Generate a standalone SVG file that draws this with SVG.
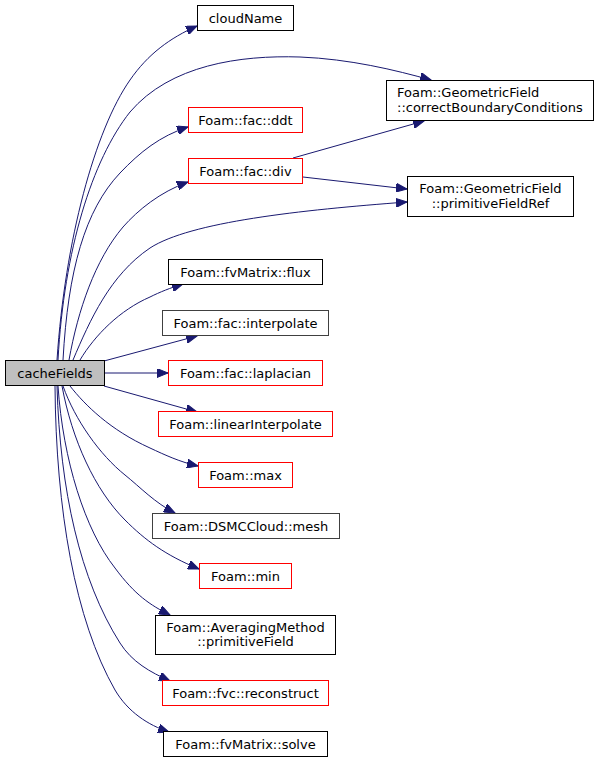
<svg xmlns="http://www.w3.org/2000/svg" width="599" height="763" viewBox="0 0 599 763">
<defs>
<style>
.n rect{fill:#fff;stroke:#000;stroke-width:1}
.n.r rect{stroke:#ff0000}
.n.g rect{stroke:#404040}
.n.cur rect{fill:#bfbfbf}
text{font-family:"DejaVu Sans","Liberation Sans",sans-serif;font-size:13px;fill:#000}
.c{text-anchor:middle}
.e path{fill:none;stroke:#191970;stroke-width:1;marker-end:url(#ah)}
</style>
<marker id="ah" markerUnits="userSpaceOnUse" markerWidth="12" markerHeight="9" refX="11" refY="4.5" orient="auto">
<path d="M0,0 L11,4.5 L0,9 z" fill="#191970" stroke="#191970" stroke-width="1"/>
</marker>
</defs>
<rect width="599" height="763" fill="#fff"/>
<g id="edges" class="e">
<path d="M57,360 C65,240 95,130 130,80 C148,54 170,38 197,26"/>
<path d="M58,360 C64,250 92,160 130,112 C170,65 240,55 300,57 C350,59 395,70 431,80"/>
<path d="M63,360 C68,270 85,210 120,173 C140,152 160,136 188,127"/>
<path d="M69,360 C78,310 95,260 123,227 C138,210 160,192 188,182"/>
<path d="M293,158 L424,121"/>
<path d="M303,177 L407,189"/>
<path d="M73,360 C90,320 110,275 150,248 C190,222 300,210 407,202"/>
<path d="M80,360 C95,335 120,310 150,297 C160,292 170,288 183,284"/>
<path d="M104,361 L197,336"/>
<path d="M104,373 L168,373"/>
<path d="M104,386 L197,412"/>
<path d="M70,386 C85,405 110,430 150,448 C165,455 180,462 198,466"/>
<path d="M63,386 C75,420 100,455 125,475 C140,487 155,503 175,513"/>
<path d="M62,386 C72,440 95,490 125,520 C145,540 165,555 199,569"/>
<path d="M58,386 C63,460 85,530 115,568 C135,595 150,605 170,615"/>
<path d="M57,386 C60,490 80,580 120,643 C132,662 150,672 170,681"/>
<path d="M55,386 C56,510 75,620 115,690 C128,712 148,725 169,732"/>
</g>
<g id="cacheFields" class="n cur"><rect x="5.5" y="360.5" width="99" height="25"/><text class="c" x="55" y="377.5">cacheFields</text></g>
<g id="cloudName" class="n"><rect x="197.5" y="5.5" width="96" height="25"/><text class="c" x="245.5" y="22.5">cloudName</text></g>
<g id="cbc" class="n"><rect x="386.5" y="80.5" width="207" height="40"/><text x="397" y="96.5">Foam::GeometricField</text><text x="397" y="111.5">::correctBoundaryConditions</text></g>
<g id="ddt" class="n r"><rect x="188.5" y="107.5" width="114" height="25"/><text class="c" x="245.5" y="124.5">Foam::fac::ddt</text></g>
<g id="div" class="n r"><rect x="188.5" y="158.5" width="114" height="25"/><text class="c" x="245.5" y="175.5">Foam::fac::div</text></g>
<g id="pfr" class="n"><rect x="407.5" y="176.5" width="166" height="40"/><text class="c" x="490.5" y="192.5">Foam::GeometricField</text><text class="c" x="490.5" y="207.5">::primitiveFieldRef</text></g>
<g id="flux" class="n"><rect x="168.5" y="259.5" width="154" height="25"/><text class="c" x="245.5" y="276.5">Foam::fvMatrix::flux</text></g>
<g id="interpolate" class="n g"><rect x="162.5" y="310.5" width="166" height="25"/><text class="c" x="245.5" y="327.5">Foam::fac::interpolate</text></g>
<g id="laplacian" class="n r"><rect x="168.5" y="360.5" width="154" height="25"/><text class="c" x="245.5" y="377.5">Foam::fac::laplacian</text></g>
<g id="linearInterpolate" class="n r"><rect x="158.5" y="411.5" width="174" height="25"/><text class="c" x="245.5" y="428.5">Foam::linearInterpolate</text></g>
<g id="max" class="n r"><rect x="198.5" y="462.5" width="94" height="25"/><text class="c" x="245.5" y="479.5">Foam::max</text></g>
<g id="mesh" class="n g"><rect x="152.5" y="513.5" width="187" height="25"/><text class="c" x="246" y="530.5">Foam::DSMCCloud::mesh</text></g>
<g id="min" class="n r"><rect x="199.5" y="563.5" width="92" height="25"/><text class="c" x="245.5" y="580.5">Foam::min</text></g>
<g id="avm" class="n"><rect x="155.5" y="615.5" width="180" height="39"/><text class="c" x="245.5" y="631.5">Foam::AveragingMethod</text><text class="c" x="245.5" y="646">::primitiveField</text></g>
<g id="reconstruct" class="n r"><rect x="162.5" y="680.5" width="166" height="25"/><text class="c" x="245.5" y="697.5">Foam::fvc::reconstruct</text></g>
<g id="solve" class="n"><rect x="163.5" y="731.5" width="164" height="25"/><text class="c" x="245.5" y="748.5">Foam::fvMatrix::solve</text></g>
</svg>
